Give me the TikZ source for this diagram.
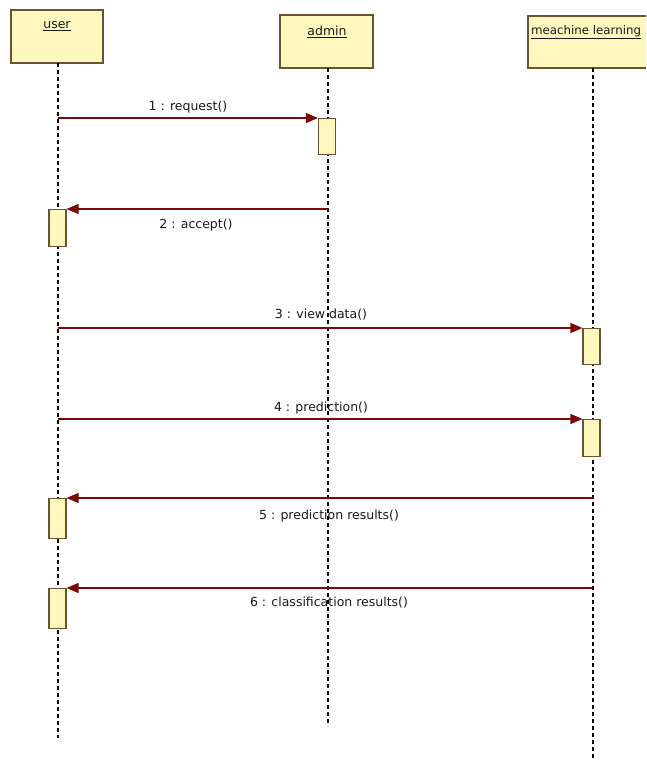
\documentclass[tikz,border=0pt]{standalone}
\usepackage{fontspec}
\setmainfont{DejaVu Sans}
\usetikzlibrary{arrows.meta}
\definecolor{boxfill}{RGB}{255,248,190}
\definecolor{boxedge}{RGB}{110,80,50}
\definecolor{msg}{RGB}{125,8,8}
\definecolor{txt}{RGB}{25,25,25}
\tikzset{
  headbox/.style={draw=boxedge, fill=boxfill, line width=1.2pt, inner sep=0pt},
  actbox/.style={draw=boxedge, fill=boxfill, line width=1.1pt, inner sep=0pt, minimum width=17pt, anchor=north},
  title/.style={font=\fontsize{12.5}{14}\selectfont, text=txt, inner sep=0pt},
  lifeline/.style={draw=black, line width=1.1pt, dash pattern=on 4pt off 3pt},
  msgline/.style={draw=msg, line width=1.1pt, -{Triangle[length=12pt,width=10pt]}},
  msglabel/.style={font=\fontsize{12.5}{14}\selectfont, text=txt, inner sep=0pt}
}
\begin{document}
\begin{tikzpicture}[x=1pt,y=-1pt]
\useasboundingbox (0,0) rectangle (646,760);
\clip (0,0) rectangle (646,760);
\fill[white] (0,0) rectangle (646,760);

% heads
\node[headbox, minimum width=92pt, minimum height=53pt] (user) at (57,36.5) {};
\node[headbox, minimum width=93pt, minimum height=53pt] (admin) at (326.5,41.5) {};
\node[headbox, minimum width=130pt, minimum height=52pt] (ml) at (593,42) {};
\node[title] (userT) at (57,26) {\underline{user}};
\node[title] (adminT) at (327,32) {\underline{admin}};
\node[title, anchor=west, font=\fontsize{11.8}{14}\selectfont] (mlT) at (531,32) {\underline{meachine learning}};

% lifelines
\coordinate (uTop) at (58,63);
\coordinate (uBot) at (58,738);
\coordinate (aTop) at (328,68);
\coordinate (aBot) at (328,726);
\coordinate (mTop) at (593,68);
\coordinate (mBot) at (593,762);
\draw[lifeline] (uTop) -- (uBot);
\draw[lifeline] (aTop) -- (aBot);
\draw[lifeline] (mTop) -- (mBot);

% activations
\node[actbox, minimum height=36pt] (a1) at (327,118) {};
\node[actbox, minimum height=37pt] (a2) at (57.5,209) {};
\node[actbox, minimum height=36pt] (a3) at (591.5,328) {};
\node[actbox, minimum height=37pt] (a4) at (591.5,419) {};
\node[actbox, minimum height=40pt] (a5) at (57.5,498) {};
\node[actbox, minimum height=40pt] (a6) at (57.5,588) {};

% message start points
\coordinate (s1) at (58,118);
\coordinate (s2) at (328,209);
\coordinate (s3) at (58,328);
\coordinate (s4) at (58,419);
\coordinate (s5) at (593,498);
\coordinate (s6) at (593,588);

\draw[msgline] (s1) -- (a1.north west);
\draw[msgline] (s2) -- (a2.north east);
\draw[msgline] (s3) -- (a3.north west);
\draw[msgline] (s4) -- (a4.north west);
\draw[msgline] (s5) -- (a5.north east);
\draw[msgline] (s6) -- (a6.north east);

% labels
\node[msglabel] (l1) at (188,107) {1 : request()};
\node[msglabel] (l2) at (196,225) {2 : accept()};
\node[msglabel] (l3) at (321,315) {3 : view data()};
\node[msglabel] (l4) at (321,408) {4 : prediction()};
\node[msglabel] (l5) at (329,516) {5 : prediction results()};
\node[msglabel] (l6) at (329,603) {6 : classification results()};
\end{tikzpicture}
\end{document}
